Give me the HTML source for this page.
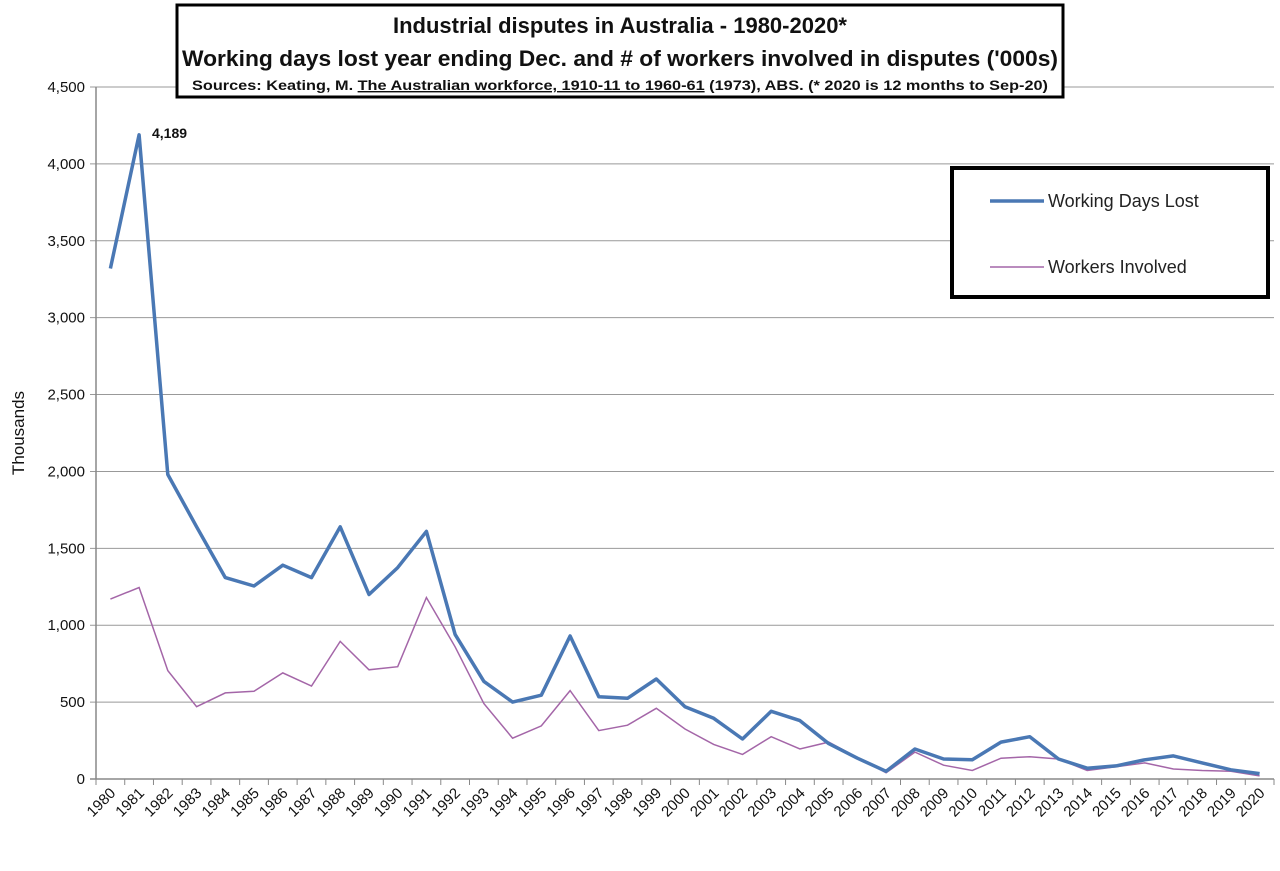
<!DOCTYPE html>
<html><head><meta charset="utf-8"><style>
body{margin:0;background:#fff;}
svg{display:block;font-family:"Liberation Sans",sans-serif;}
</style></head><body>
<svg id="c" width="1280" height="871" xmlns="http://www.w3.org/2000/svg">
<g id="grid"></g>
<line x1="96" y1="87" x2="96" y2="779" stroke="#888" stroke-width="1.5"/>
<line x1="90" y1="779" x2="1274" y2="779" stroke="#888" stroke-width="1.5"/>
<g id="lab"></g>
<polyline id="wi" fill="none" stroke="#a466a8" stroke-width="1.5"/>
<polyline id="wd" fill="none" stroke="#4a78b4" stroke-width="3.5" stroke-linejoin="round"/>
<text x="152" y="138" font-size="14" font-weight="bold" fill="#111">4,189</text>
<text transform="translate(24,433) rotate(-90)" text-anchor="middle" font-size="17" fill="#111">Thousands</text>
<rect x="177" y="5" width="886" height="92" fill="#fff" stroke="#000" stroke-width="3"/>
<text x="620" y="33" text-anchor="middle" font-size="22" font-weight="bold" fill="#111">Industrial disputes in Australia - 1980-2020*</text>
<text x="620" y="66" text-anchor="middle" font-size="22" font-weight="bold" fill="#111" textLength="876" lengthAdjust="spacingAndGlyphs">Working days lost year ending Dec. and # of workers involved in disputes ('000s)</text>
<text x="620" y="90" text-anchor="middle" font-size="14" font-weight="bold" fill="#111" textLength="856" lengthAdjust="spacingAndGlyphs">Sources: Keating, M. <tspan text-decoration="underline">The Australian workforce, 1910-11 to 1960-61</tspan> (1973),  ABS.   (* 2020 is 12 months to Sep-20)</text>
<rect x="952" y="168" width="316" height="129" fill="#fff" stroke="#000" stroke-width="4"/>
<line x1="990" y1="201" x2="1044" y2="201" stroke="#4a78b4" stroke-width="3.5"/>
<text x="1048" y="207" font-size="18" fill="#222">Working Days Lost</text>
<line x1="990" y1="267" x2="1044" y2="267" stroke="#a466a8" stroke-width="1.5"/>
<text x="1048" y="273" font-size="18" fill="#222">Workers Involved</text>
</svg>
<script>
var wd=[3320,4189,1980,1640,1310,1255,1390,1310,1640,1200,1375,1610,940,635,500,545,930,535,525,650,470,395,260,440,380,230,135,50,195,130,125,240,275,130,70,85,125,150,105,60,35];
var wi=[1170,1245,705,470,560,570,690,605,895,710,730,1180,860,490,265,345,575,315,350,460,325,225,160,275,195,240,140,40,175,90,55,135,145,130,55,80,105,65,55,50,20];
var y0=779,k=(779-87)/4500,cw=(1274-96)/41;
function X(i){return 96+cw*(i+0.5);}function Y(v){return y0-v*k;}
document.getElementById('wd').setAttribute('points',wd.map((v,i)=>X(i).toFixed(1)+','+Y(v).toFixed(1)).join(' '));
document.getElementById('wi').setAttribute('points',wi.map((v,i)=>X(i).toFixed(1)+','+Y(v).toFixed(1)).join(' '));
var g='',l='';
for(var v=500;v<=4500;v+=500){var y=Y(v);g+='<line x1="90" y1="'+y+'" x2="1274" y2="'+y+'" stroke="#999" stroke-width="1"/>';}
for(var v=0;v<=4500;v+=500){var y=Y(v);l+='<text x="85" y="'+(y+5)+'" text-anchor="end" font-size="15" fill="#111">'+v.toLocaleString('en-US')+'</text>';}
for(var i=0;i<=41;i++){var x=96+cw*i;g+='<line x1="'+x+'" y1="779" x2="'+x+'" y2="785" stroke="#888" stroke-width="1"/>';}
for(var i=0;i<41;i++){var x=X(i)+6;l+='<text transform="translate('+x+',794) rotate(-45)" text-anchor="end" font-size="15" fill="#111">'+(1980+i)+'</text>';}
document.getElementById('grid').innerHTML=g;document.getElementById('lab').innerHTML=l;
</script>
</body></html>
